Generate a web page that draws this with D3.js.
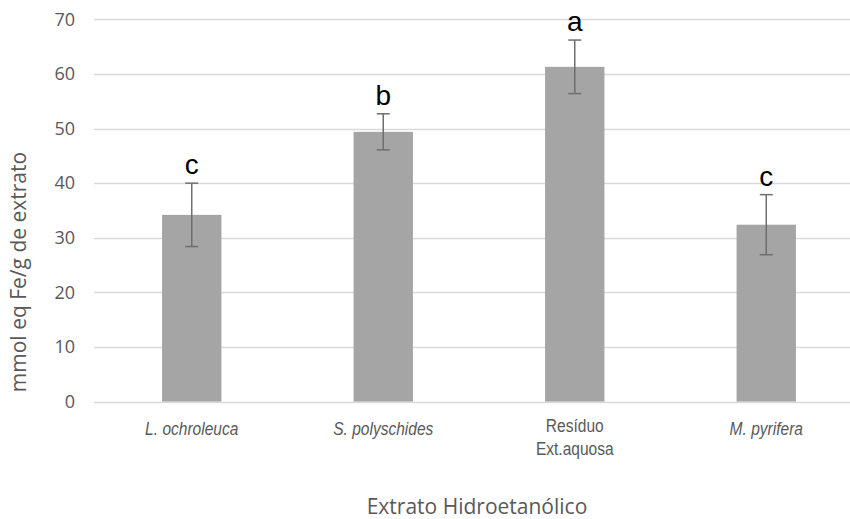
<!DOCTYPE html>
<html lang="pt">
<head>
<meta charset="utf-8">
<title>Extrato Hidroetanólico</title>
<script src="https://cdn.jsdelivr.net/npm/d3@7"></script>
<style>
  body { margin: 0; background: #fff; }
  svg { display: block; }
  .tick-y { font-family: "Open Sans", sans-serif; font-size: 18px; fill: #595959; }
  .cat { font-family: "Liberation Sans", Arial, sans-serif; font-size: 18.5px; fill: #595959; }
  .title { font-family: "Open Sans", sans-serif; font-size: 21px; fill: #595959; }
  .sig { font-family: "Liberation Sans", Arial, sans-serif; font-size: 28px; fill: #000; }
</style>
</head>
<body>
<script>
// data
var categories = [["L. ochroleuca"], ["S. polyschides"], ["Resíduo", "Ext.aquosa"], ["M. pyrifera"]];
var italicCat = [true, true, false, true];
var means = [34.2, 49.4, 61.3, 32.4];
var errors = [5.8, 3.3, 4.9, 5.5];
var letters = ["c", "b", "a", "c"];
var yTicks = [0, 10, 20, 30, 40, 50, 60, 70];

var width = 850, height = 519;
var plot = {left: 94, right: 862, top: 19.3, bottom: 401.7};

var svg = d3.select("body").append("svg")
    .attr("width", width)
    .attr("height", height);

var idx = d3.range(categories.length);

var x = d3.scaleBand()
    .domain(idx)
    .range([96, 862])
    .paddingInner(0.69)
    .paddingOuter(0.345);

var y = d3.scaleLinear()
    .domain([0, 70])
    .range([plot.bottom, plot.top]);

// gridlines
svg.append("g").selectAll("line")
    .data(yTicks.slice(1))
    .enter().append("line")
    .attr("x1", plot.left).attr("x2", plot.right)
    .attr("y1", function(d) { return Math.round(y(d)) + 0.5; })
    .attr("y2", function(d) { return Math.round(y(d)) + 0.5; })
    .attr("stroke", "#d9d9d9")
    .attr("stroke-width", 1.3);

// y tick labels
svg.append("g").selectAll("text")
    .data(yTicks)
    .enter().append("text")
    .attr("class", "tick-y")
    .attr("x", 75)
    .attr("y", function(d) { return y(d); })
    .attr("dy", "0.35em")
    .attr("text-anchor", "end")
    .text(function(d) { return d; });

// bars
svg.append("g").selectAll("rect")
    .data(idx)
    .enter().append("rect")
    .attr("x", function(i) { return x(i); })
    .attr("width", x.bandwidth())
    .attr("y", function(i) { return y(means[i]); })
    .attr("height", function(i) { return y(0) - y(means[i]); })
    .attr("fill", "#a5a5a5");

// x axis line
svg.append("line")
    .attr("x1", plot.left).attr("x2", plot.right)
    .attr("y1", Math.round(y(0)) + 0.5).attr("y2", Math.round(y(0)) + 0.5)
    .attr("stroke", "#d9d9d9")
    .attr("stroke-width", 1.3);

// error bars
var eb = svg.append("g")
    .attr("stroke", "#6e6e6e")
    .attr("stroke-width", 1.5);
idx.forEach(function(i) {
    var cx = x(i) + x.bandwidth() / 2;
    var top = y(means[i] + errors[i]), bot = y(means[i] - errors[i]);
    eb.append("line").attr("x1", cx).attr("x2", cx).attr("y1", top).attr("y2", bot);
    eb.append("line").attr("x1", cx - 6.5).attr("x2", cx + 6.5).attr("y1", top).attr("y2", top);
    eb.append("line").attr("x1", cx - 6.5).attr("x2", cx + 6.5).attr("y1", bot).attr("y2", bot);
});

// significance letters
svg.append("g").selectAll("text")
    .data(idx)
    .enter().append("text")
    .attr("class", "sig")
    .attr("x", function(i) { return x(i) + x.bandwidth() / 2; })
    .attr("y", function(i) { return y(means[i] + errors[i]) - 9; })
    .attr("text-anchor", "middle")
    .text(function(i) { return letters[i]; });

// category labels (condensed look, squeezed horizontally)
idx.forEach(function(i) {
    var lines = categories[i];
    var cx = x(i) + x.bandwidth() / 2;
    var t = svg.append("g")
        .attr("transform", "translate(" + cx + "," + (lines.length > 1 ? 432 : 435) + ") scale(0.84,1)")
        .append("text")
        .attr("class", "cat")
        .attr("text-anchor", "middle")
        .attr("font-style", italicCat[i] ? "italic" : "normal");
    lines.forEach(function(line, k) {
        t.append("tspan")
            .attr("x", 0)
            .attr("dy", k === 0 ? 0 : 23)
            .text(line);
    });
});

// axis titles
svg.append("text")
    .attr("class", "title")
    .attr("text-anchor", "middle")
    .attr("x", 477)
    .attr("y", 514)
    .text("Extrato Hidroetanólico");

svg.append("text")
    .attr("class", "title")
    .attr("text-anchor", "middle")
    .attr("transform", "translate(26,272) rotate(-90)")
    .text("mmol eq Fe/g de extrato");
</script>
</body>
</html>
